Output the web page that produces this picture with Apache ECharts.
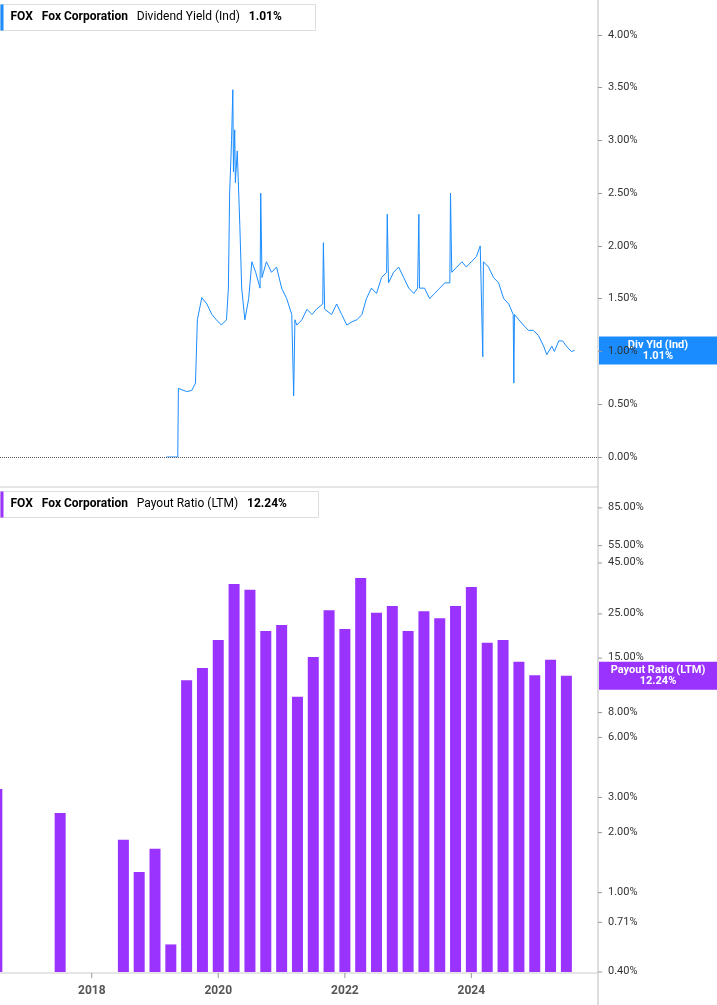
<!DOCTYPE html>
<html><head><meta charset="utf-8">
<script src="https://cdn.jsdelivr.net/npm/echarts@6/dist/echarts.min.js"></script>
<style>html,body{margin:0;padding:0;background:#fff}#c{width:717px;height:1005px}</style>
</head><body><div id="c"></div>
<script>
// Dividend yield (%) : [decimal year, value]
const yieldYears = [2019.18,2019.36,2019.37,2019.50,2019.58,2019.64,2019.67,2019.74,2019.82,2019.90,2019.97,2020.05,2020.13,2020.16,2020.18,2020.21,2020.23,2020.24,2020.26,2020.27,2020.30,2020.34,2020.37,2020.42,2020.48,2020.53,2020.59,2020.66,2020.67,2020.69,2020.76,2020.84,2020.92,2021.00,2021.08,2021.16,2021.19,2021.21,2021.24,2021.32,2021.40,2021.48,2021.55,2021.65,2021.66,2021.68,2021.79,2021.87,2021.95,2022.03,2022.11,2022.19,2022.27,2022.34,2022.42,2022.50,2022.58,2022.66,2022.67,2022.69,2022.77,2022.85,2022.93,2023.01,2023.09,2023.15,2023.17,2023.18,2023.26,2023.34,2023.42,2023.50,2023.58,2023.66,2023.67,2023.69,2023.77,2023.85,2023.92,2024.00,2024.08,2024.14,2024.18,2024.19,2024.27,2024.35,2024.43,2024.51,2024.59,2024.66,2024.67,2024.68,2024.75,2024.82,2024.90,2024.98,2025.06,2025.14,2025.19,2025.27,2025.31,2025.38,2025.44,2025.50,2025.58,2025.63];
const yieldVals = [0,0,0.65,0.62,0.63,0.70,1.30,1.51,1.45,1.35,1.30,1.25,1.30,1.60,2.50,3.00,3.48,2.70,3.10,2.60,2.90,2.20,1.60,1.30,1.50,1.85,1.75,1.60,2.50,1.70,1.85,1.75,1.80,1.60,1.50,1.35,0.58,1.30,1.25,1.30,1.40,1.35,1.40,1.45,2.03,1.40,1.35,1.45,1.35,1.25,1.28,1.30,1.35,1.50,1.60,1.55,1.70,1.75,2.30,1.65,1.75,1.80,1.70,1.60,1.55,1.60,2.30,1.60,1.60,1.50,1.55,1.60,1.65,1.65,2.50,1.75,1.80,1.85,1.80,1.85,1.90,2.00,0.95,1.85,1.80,1.70,1.65,1.50,1.45,1.35,0.70,1.35,1.30,1.25,1.20,1.20,1.15,1.05,0.97,1.05,1.00,1.10,1.10,1.05,1.00,1.01];
// Payout ratio (%) quarterly
const payoutYears = [2016.5,2017.5,2018.5,2018.75,2019.0,2019.25,2019.5,2019.75,2020.0,2020.25,2020.5,2020.75,2021.0,2021.25,2021.5,2021.75,2022.0,2022.25,2022.5,2022.75,2023.0,2023.25,2023.5,2023.75,2024.0,2024.25,2024.5,2024.75,2025.0,2025.25,2025.5];
const payoutVals = [3.31,2.51,1.84,1.27,1.66,0.55,11.6,13.4,18.5,35.3,33.0,20.5,22.0,9.6,15.2,26.1,21.0,37.8,25.3,27.4,20.5,25.8,23.8,27.4,34.1,17.9,18.5,14.4,12.3,14.7,12.24];
const yieldTicks = [0,0.5,1,1.5,2,2.5,3,3.5,4];
const payoutTicks = [85,55,45,25,15,8,6,3,2,1,0.71,0.40];
const xYears = [2018,2020,2022,2024];

const toTs = y => { const yr=Math.floor(y); const s=Date.UTC(yr,0,1), e=Date.UTC(yr+1,0,1); return s+(y-yr)*(e-s); };
const xMin = toTs(2016.55), xMax = toTs(2026.0);
const F = 'Roboto, sans-serif';
const chart = echarts.init(document.getElementById('c'));
const AX = 598;
chart.setOption({
  animation:false,
  grid:[{left:0,right:717-AX,top:0,height:457},{left:0,right:717-AX,top:490,height:482}],
  xAxis:[
    {type:'time',gridIndex:0,min:xMin,max:xMax,show:false},
    {type:'time',gridIndex:1,min:xMin,max:xMax,show:false}
  ],
  yAxis:[
    {type:'value',gridIndex:0,position:'right',min:0,max:4.33,interval:0.5,
     axisLine:{show:false},axisTick:{show:true,length:4,lineStyle:{color:'#999'}},splitLine:{show:false},
     axisLabel:{fontFamily:F,fontSize:11,color:'#333',margin:10,showMaxLabel:false,formatter:v=>v.toFixed(2)+'%'}},
    {type:'log',gridIndex:1,position:'right',min:0.4,max:104.5,show:false}
  ],
  series:[
    {type:'line',xAxisIndex:0,yAxisIndex:0,data:yieldYears.map((y,i)=>[toTs(y),yieldVals[i]]),
     showSymbol:false,lineStyle:{color:'#1a8cff',width:1},itemStyle:{color:'#1a8cff'},
     markLine:{silent:true,symbol:'none',label:{show:false},lineStyle:{color:'#555',type:'dotted',width:1},data:[{yAxis:0}]}},
    {type:'custom',xAxisIndex:1,yAxisIndex:1,clip:true,data:payoutYears.map((y,i)=>[toTs(y),payoutVals[i]]),
     renderItem:(params,api)=>{
       const top = api.coord([api.value(0),api.value(1)]);
       const base = api.coord([api.value(0),0.4]);
       return {type:'rect',shape:{x:top[0]-5.5,y:top[1],width:11,height:base[1]-top[1]},style:{fill:'#9b33ff'}};
     }}
  ]
});
function legend(y, label, val, col, w){
  return {type:'group',left:0,top:y,children:[
    {type:'rect',shape:{x:0,y:0,width:w,height:26},style:{fill:'#fff',stroke:'#ddd',lineWidth:1}},
    {type:'rect',shape:{x:0,y:0,width:3,height:26},style:{fill:col}},
    {type:'text',x:10,y:6,style:{text:'{b|FOX}   {b|Fox Corporation}   {n|'+label+'}   {b|'+val+'}',fontFamily:F,
      rich:{b:{fontWeight:'bold',fontSize:12,color:'#222',fontFamily:F},n:{fontSize:12,color:'#222',fontFamily:F}}}}
  ]};
}
function tag(y, t1, t2, col){
  return {type:'group',left:AX+1,top:y-14,children:[
    {type:'rect',shape:{x:0,y:0,width:717-AX-1,height:28},style:{fill:col}},
    {type:'text',x:(717-AX-1)/2,y:3,style:{text:t1+'\n'+t2,fill:'#fff',fontWeight:'bold',fontSize:11,lineHeight:11,align:'center',fontFamily:F}}
  ]};
}
const g = [
  {type:'line',shape:{x1:AX,y1:0,x2:AX,y2:1005},style:{stroke:'#bbb',lineWidth:1}},
  {type:'line',shape:{x1:0,y1:487,x2:AX,y2:487},style:{stroke:'#ccc',lineWidth:1}},
  {type:'line',shape:{x1:0,y1:973,x2:AX,y2:973},style:{stroke:'#ccc',lineWidth:1}}
];
payoutTicks.forEach(v=>{
  const p = chart.convertToPixel({yAxisIndex:1},v);
  g.push({type:'line',shape:{x1:AX,y1:p,x2:AX+4,y2:p},style:{stroke:'#999'}});
  g.push({type:'text',x:AX+10,y:p-6,style:{text:v.toFixed(2)+'%',fontSize:11,fill:'#333',fontFamily:F}});
});
xYears.forEach(y=>{
  const p = chart.convertToPixel({xAxisIndex:1},toTs(y));
  g.push({type:'line',shape:{x1:p,y1:973,x2:p,y2:978},style:{stroke:'#999'}});
  g.push({type:'text',x:p,y:985,style:{text:String(y),fontSize:12,fontWeight:'bold',fill:'#555',align:'center',fontFamily:F}});
});
g.push(legend(4,'Dividend Yield (Ind)','1.01%','#1a8cff',315));
g.push(legend(491,'Payout Ratio (LTM)','12.24%','#9b33ff',318));
g.push(tag(chart.convertToPixel({yAxisIndex:0},yieldVals[yieldVals.length-1]),'Div Yld (Ind)',yieldVals[yieldVals.length-1].toFixed(2)+'%','#1a8cff'));
g.push(tag(chart.convertToPixel({yAxisIndex:1},payoutVals[payoutVals.length-1]),'Payout Ratio (LTM)',payoutVals[payoutVals.length-1].toFixed(2)+'%','#9b33ff'));
chart.setOption({graphic:g});
</script></body></html>
